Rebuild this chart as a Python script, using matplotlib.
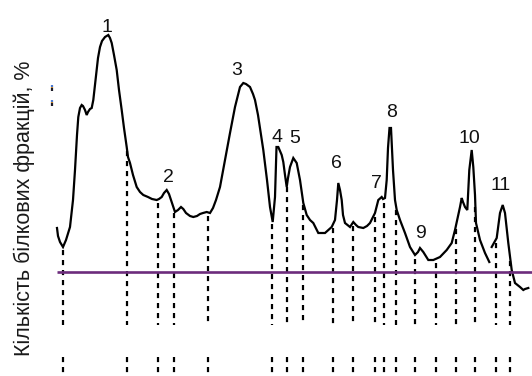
import numpy as np
import matplotlib
matplotlib.use("Agg")
import matplotlib.pyplot as plt

plt.rcParams['font.family'] = ['Liberation Sans', 'DejaVu Sans']

# Densitogram of protein fractions: position along the track and optical density (baseline = 0)
position = [57, 58, 60, 63, 66, 70, 73, 75, 77, 78.3, 80, 81.7, 83, 85, 86.7, 88, 90, 91.7,
            93.3, 95, 96.7, 98, 100, 102, 105, 108.3, 110, 111.7, 114, 116.7, 119, 121.7,
            124, 126.7, 128, 130, 133, 136.7, 140, 143.3, 148, 152, 156.7, 159, 161.7, 164,
            166.7, 169, 171.7, 175, 178, 181, 183.3, 186, 190, 193.3, 197, 200, 203, 206.7,
            210, 213, 216, 220, 225, 230, 235, 240, 243.3, 246, 250, 253, 255, 258, 263.3,
            267, 270, 272.7, 275, 276.5, 278.3, 281.7, 283.3, 285, 286.7, 288, 290, 293.3,
            296.7, 300, 303.3, 306.7, 310, 313.3, 318.3, 325, 331.7, 335, 337, 338.3, 340,
            341.7, 343, 345, 350, 353.3, 356, 358.3, 363.3, 367, 370, 375, 378.3, 381.7, 383,
            385, 386.7, 388, 389.5, 391, 392, 393, 394, 395, 396.7, 400, 405, 410, 415, 418,
            420, 423.3, 428.3, 433.3, 440, 446.7, 451.7, 455, 460, 461.7, 463, 465, 467.3,
            469.3, 471.7, 473.3, 475, 476, 480, 485, 489.3, np.nan, 491.7, 496.7, 500, 502.7,
            505, 508.3, 511.7, 515, 520, 523.3, 525, 528.3]
density = [44, 36, 30, 25, 32, 45, 72, 102, 137, 155, 164, 167, 166, 162, 157, 160, 163, 164,
           172, 187, 202, 214, 225, 231, 235, 237, 234, 229, 217, 202, 182, 162,
           144, 125, 115, 109, 97, 85, 80, 77, 75, 73, 72, 73, 75, 79,
           82, 78, 70, 60, 62, 65, 63, 59, 56, 55, 56, 58, 59, 60,
           59, 64, 72, 85, 112, 139, 165, 185, 189, 188, 185, 178, 172, 157, 122,
           92, 65, 50, 75, 125, 125, 117, 110, 97, 85, 94, 105, 114,
           109, 92, 69, 57, 52, 49, 39, 39, 45, 52, 72, 89, 82,
           72, 57, 49, 45, 50, 47, 45, 44, 46, 49, 59, 72, 75, 73,
           74, 92, 124, 144, 144, 124, 102, 87, 72, 62, 52, 39, 25, 17, 20,
           24, 20, 12, 12, 15, 22, 29, 42, 65, 74, 70, 65, 62,
           102, 122, 105, 77, 49, 32, 19, 10, np.nan, 25, 34, 59, 67,
           59, 29, 2, -11, -15, -18, -17, -16]

# Fraction boundaries
boundaries = [63.3, 126.7, 158.3, 174, 208.3, 272.3, 287.3, 303, 333.3, 353.3, 375, 384,
              396, 414.7, 435.7, 456, 475.3, 496, 510]

# Peak numbers and their label anchors
peak_labels = ['1', '2', '3', '4', '5', '6', '7', '8', '9', '10', '11']
label_x = [107, 168, 237, 276.5, 295, 336.7, 376, 391.7, 420, 469.5, 501]
label_y = [240, 90, 197, 130, 129, 104, 84, 155, 34, 129, 82]

y_title = 'Кількість білкових фракцій, %'

fig = plt.figure(figsize=(5.32, 3.76), dpi=100)
ax = fig.add_axes([0, 0, 1, 1])
ax.set_xlim(0, 532)
ax.set_ylim(-104, 272)
ax.axis('off')

x = np.array(position, dtype=float)
y = np.array(density, dtype=float)

# Curve
ax.plot(x, y, color='black', lw=1.6, solid_joinstyle='miter', zorder=3)

# Boundary lines: from the curve down, then a short stub at the bottom
ok = ~np.isnan(x)
for b in boundaries:
    top = np.interp(b, x[ok], y[ok]) - 4
    ax.plot([b, b], [top, -53], color='black', lw=1.6, dashes=(2.3, 2.2), zorder=2)
    ax.plot([b, b], [-85, -106], color='black', lw=1.6, dashes=(2.3, 2.2), zorder=2)

# Baseline
ax.plot([57, 532], [0, 0], color='#6c2c7c', lw=1.9, solid_capstyle='butt', zorder=4)

# Peak numbers
for t, lx, ly in zip(peak_labels, label_x, label_y):
    ax.text(lx, ly, t, fontsize=14, ha='center', va='baseline', color='#111111', zorder=5)

# Small marks next to the curve start
for yc in (184, 169):
    ax.plot([52, 52], [yc + 3, yc + 1.5], color='#4a78d0', lw=1.6, solid_capstyle='butt')
    ax.plot([52, 52], [yc + 1.5, yc], color='#c8872e', lw=1.6, solid_capstyle='butt')
    ax.plot([52, 52], [yc, yc - 3], color='#1c1c28', lw=1.6, solid_capstyle='butt')

# Axis title
ax.text(24, 64, y_title, rotation=90, fontsize=15.5, ha='center', va='center', color='#1a1a1a')

fig.savefig('out.png', dpi=100)
